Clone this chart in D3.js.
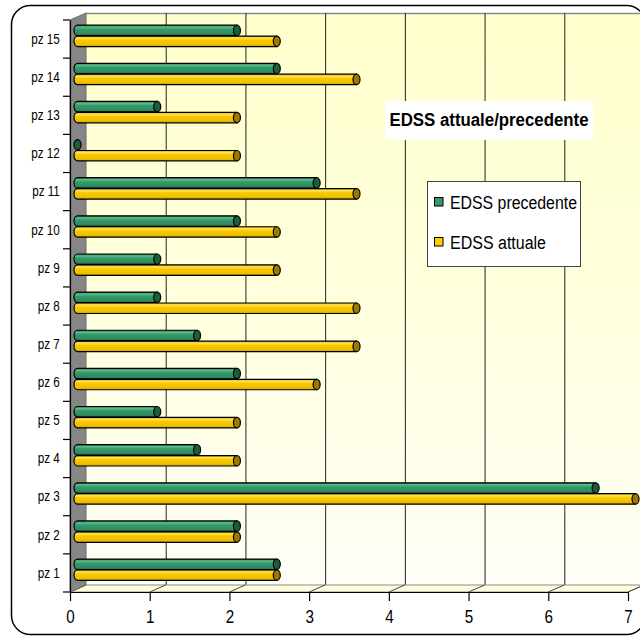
<!DOCTYPE html>
<html><head><meta charset="utf-8">
<script src="https://cdn.jsdelivr.net/npm/d3@7"></script>
<style>html,body{margin:0;padding:0;background:#fff;}svg{display:block;}</style>
</head><body>
<script>
const categories = ["pz 1","pz 2","pz 3","pz 4","pz 5","pz 6","pz 7","pz 8","pz 9","pz 10","pz 11","pz 12","pz 13","pz 14","pz 15"];
const edssPrecedente = [2.5, 2, 6.5, 1.5, 1, 2, 1.5, 1, 1, 2, 3, 0, 1, 2.5, 2];
const edssAttuale    = [2.5, 2, 7,   2,   2, 3, 3.5, 3.5, 2.5, 2.5, 3.5, 2, 2, 3.5, 2.5];
const seriesNames = ["EDSS precedente", "EDSS attuale"];
const xTicks = [0,1,2,3,4,5,6,7];
const chartTitle = "EDSS attuale/precedente";

const W = 640, H = 636;
const FONT = "'Liberation Sans',Arial,sans-serif";
const svg = d3.select("body").append("svg").attr("width", W).attr("height", H);
const defs = svg.append("defs");

// gradients
const wallG = defs.append("linearGradient").attr("id","wall").attr("x1",0).attr("y1",0).attr("x2",0).attr("y2",1);
wallG.append("stop").attr("offset",0).attr("stop-color","#FFFFCC");
wallG.append("stop").attr("offset",0.5).attr("stop-color","#FFFFDD");
wallG.append("stop").attr("offset",1).attr("stop-color","#FEFEF6");

function cylGrad(id, stops){
  const g = defs.append("linearGradient").attr("id",id).attr("x1",0).attr("y1",0).attr("x2",0).attr("y2",1);
  stops.forEach(s => g.append("stop").attr("offset",s[0]).attr("stop-color",s[1]));
}
cylGrad("gGreen", [[0,"#1f6b45"],[0.18,"#5cbf8c"],[0.4,"#35996a"],[0.8,"#2f8c5f"],[1,"#236b48"]]);
cylGrad("gYellow",[[0,"#c9a000"],[0.18,"#ffe45a"],[0.4,"#f8c800"],[0.8,"#efc000"],[1,"#c99e00"]]);
const fills = ["url(#gGreen)","url(#gYellow)"];
const capFills = ["#1f5c3d","#9c7a00"];
const legendFills = ["#339966","#FFCC00"];

// outer frame
svg.append("rect").attr("x",11.5).attr("y",5.5).attr("width",634).attr("height",629)
  .attr("rx",19).attr("fill","#fff").attr("stroke","#000").attr("stroke-width",1.5);

// scales
const x = d3.scaleLinear().domain([0,7]).range([70,628]);
const yAxis = d3.scaleBand().domain(categories).range([592,20]).padding(0);
const depthX = 16, depthY = -7;
const bdx = 7.5, bdy = -3.2;
const yb = d3.scaleBand().domain(categories).range([592+bdy, 20+bdy]).paddingInner(0.44).paddingOuter(0.22);
const ys = d3.scaleBand().domain(seriesNames).range([0, yb.bandwidth()]).paddingInner(0.04);

const top0 = yAxis.range()[1], bot0 = yAxis.range()[0];

// back wall
svg.append("rect").attr("x", x(0)+depthX).attr("y", top0+depthY)
  .attr("width", 660 - (x(0)+depthX)).attr("height", (bot0 - top0))
  .attr("fill","url(#wall)");
svg.append("line").attr("x1", x(0)+depthX).attr("x2", 645).attr("y1", top0+depthY+0.5).attr("y2", top0+depthY+0.5)
  .attr("stroke","#8a8a8a").attr("stroke-width",1.5);

// gridlines on back wall
svg.append("g").selectAll("line").data(xTicks.slice(1)).join("line")
  .attr("x1", d => x(d)+depthX+0.5).attr("x2", d => x(d)+depthX+0.5)
  .attr("y1", top0+depthY).attr("y2", bot0+depthY)
  .attr("stroke", "#222").attr("stroke-width",1);

// floor
const floorPts = [[x(0),bot0],[x(7),bot0],[x(7)+depthX,bot0+depthY],[x(0)+depthX,bot0+depthY]];
svg.append("polygon").attr("points", floorPts.map(p=>p.join(",")).join(" "))
  .attr("fill","#FFFFE0").attr("stroke","#8a8a8a").attr("stroke-width",1);
svg.append("g").selectAll("line").data(xTicks).join("line")
  .attr("x1", d => x(d)).attr("y1", bot0).attr("x2", d => x(d)+depthX).attr("y2", bot0+depthY)
  .attr("stroke","#444").attr("stroke-width",1);

// left wall
const wallPts = [[x(0),top0],[x(0)+depthX,top0+depthY],[x(0)+depthX,bot0+depthY],[x(0),bot0]];
svg.append("polygon").attr("points", wallPts.map(p=>p.join(",")).join(" "))
  .attr("fill","#868686").attr("stroke","#6a6a6a").attr("stroke-width",1);

// bars
const rows = [];
categories.forEach((c,i) => {
  rows.push({cat:c, s:0, v:edssPrecedente[i]});
  rows.push({cat:c, s:1, v:edssAttuale[i]});
});
const gBars = svg.append("g");
rows.forEach(r => {
  const t = yb(r.cat) + ys(seriesNames[r.s]);
  const h = ys.bandwidth();
  const xs = x(0) + bdx, xe = x(r.v) + bdx;
  const rx = 3.5, ry = h/2;
  if (xe - xs > 0.5) {
    gBars.append("path")
      .attr("d", `M${xe},${t} L${xs},${t} A${rx},${ry} 0 0 0 ${xs},${t+h} L${xe},${t+h} Z`)
      .attr("fill", fills[r.s]).attr("stroke","#000").attr("stroke-width",1.2);
  }
  gBars.append("ellipse").attr("cx", xe).attr("cy", t+h/2).attr("rx", rx).attr("ry", ry)
    .attr("fill", capFills[r.s]).attr("stroke","#000").attr("stroke-width",1.2);
});

// x axis
const xAxisG = svg.append("g").attr("transform", `translate(0,${bot0})`)
  .call(d3.axisBottom(x).tickValues(xTicks).tickFormat(d3.format("d")).tickSize(9).tickSizeOuter(0).tickPadding(9));
xAxisG.select(".domain").attr("stroke","#000").attr("stroke-width",1.2);
xAxisG.selectAll(".tick line").attr("stroke","#000").attr("stroke-width",1.2);
xAxisG.selectAll("text").attr("font-family",FONT)
  .attr("font-size",19).attr("fill","#000").attr("transform","scale(0.8,1)");

// y axis (labels centered on bands, ticks at boundaries)
const yAxisG = svg.append("g").attr("transform", `translate(${x(0)},0)`)
  .call(d3.axisLeft(yAxis).tickSize(0).tickPadding(13).tickSizeOuter(0));
yAxisG.select(".domain").attr("stroke","#000").attr("stroke-width",1.2);
yAxisG.selectAll("text").attr("font-family",FONT)
  .attr("font-size",15).attr("fill","#000").attr("transform","scale(0.78,1)");
const bounds = categories.map(c => yAxis(c)).concat([bot0]);
svg.append("g").selectAll("line").data(bounds).join("line")
  .attr("x1", x(0)-7).attr("x2", x(0)).attr("y1", d => d).attr("y2", d => d)
  .attr("stroke","#000").attr("stroke-width",1.2);

// title
svg.append("rect").attr("x",385).attr("y",101).attr("width",208).attr("height",39).attr("fill","#fff");
svg.append("text").attr("x",489).attr("y",125.5).attr("text-anchor","middle")
  .attr("font-family",FONT).attr("font-weight","bold")
  .attr("font-size",18).attr("textLength",199).attr("lengthAdjust","spacingAndGlyphs")
  .text(chartTitle);

// legend
svg.append("rect").attr("x",427.5).attr("y",181.5).attr("width",153).attr("height",85)
  .attr("fill","#fff").attr("stroke","#444").attr("stroke-width",1);
const legY = [202, 242];
const legW = [127, 96];
seriesNames.forEach((n,i) => {
  svg.append("rect").attr("x",434.5).attr("y",legY[i]-4.5).attr("width",8.5).attr("height",8.5)
    .attr("fill",legendFills[i]).attr("stroke","#000").attr("stroke-width",1);
  svg.append("text").attr("x",450).attr("y",legY[i]+6.5)
    .attr("font-family",FONT)
    .attr("font-size",18).attr("textLength",legW[i]).attr("lengthAdjust","spacingAndGlyphs")
    .text(n);
});
</script>
</body></html>
